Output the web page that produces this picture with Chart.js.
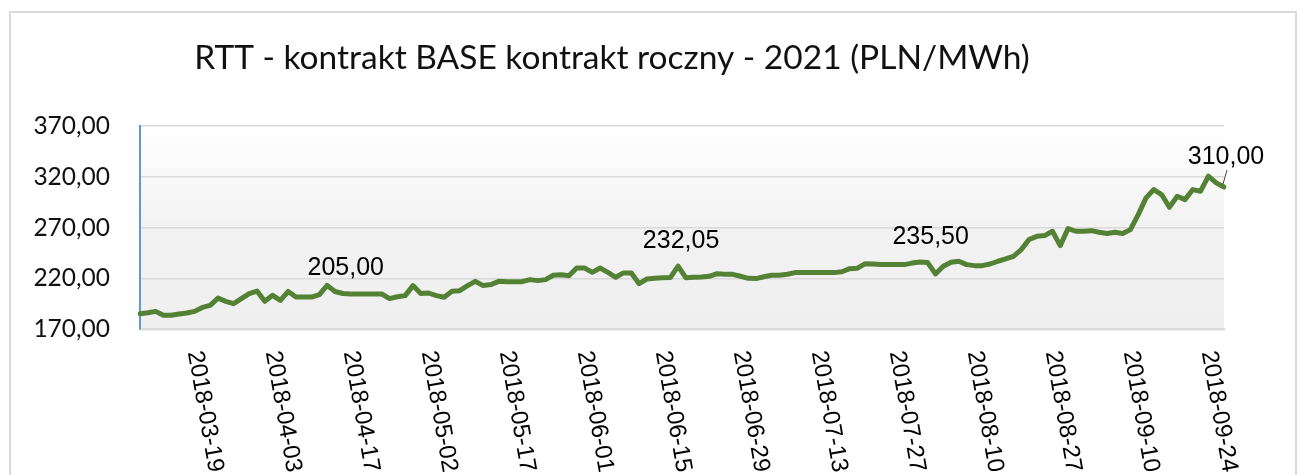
<!DOCTYPE html>
<html>
<head>
<meta charset="utf-8">
<title>RTT - kontrakt BASE</title>
<script src="https://cdn.jsdelivr.net/npm/chart.js@4/dist/chart.umd.min.js"></script>
<style>
  body { margin: 0; background: #fff; }
  canvas { display: block; }
</style>
</head>
<body>
<canvas id="rttChart" width="1307" height="475"></canvas>
<script>
// trading days (category axis)
const dates = [
  '2018-03-07','2018-03-08','2018-03-09','2018-03-12','2018-03-13','2018-03-14','2018-03-15','2018-03-16','2018-03-19','2018-03-20',
  '2018-03-21','2018-03-22','2018-03-23','2018-03-26','2018-03-27','2018-03-28','2018-03-29','2018-03-30','2018-04-03','2018-04-04',
  '2018-04-05','2018-04-06','2018-04-09','2018-04-10','2018-04-11','2018-04-12','2018-04-13','2018-04-16','2018-04-17','2018-04-18',
  '2018-04-19','2018-04-20','2018-04-23','2018-04-24','2018-04-25','2018-04-26','2018-04-27','2018-04-30','2018-05-02','2018-05-04',
  '2018-05-07','2018-05-08','2018-05-09','2018-05-10','2018-05-11','2018-05-14','2018-05-15','2018-05-16','2018-05-17','2018-05-18',
  '2018-05-21','2018-05-22','2018-05-23','2018-05-24','2018-05-25','2018-05-28','2018-05-29','2018-05-30','2018-06-01','2018-06-04',
  '2018-06-05','2018-06-06','2018-06-07','2018-06-08','2018-06-11','2018-06-12','2018-06-13','2018-06-14','2018-06-15','2018-06-18',
  '2018-06-19','2018-06-20','2018-06-21','2018-06-22','2018-06-25','2018-06-26','2018-06-27','2018-06-28','2018-06-29','2018-07-02',
  '2018-07-03','2018-07-04','2018-07-05','2018-07-06','2018-07-09','2018-07-10','2018-07-11','2018-07-12','2018-07-13','2018-07-16',
  '2018-07-17','2018-07-18','2018-07-19','2018-07-20','2018-07-23','2018-07-24','2018-07-25','2018-07-26','2018-07-27','2018-07-30',
  '2018-07-31','2018-08-01','2018-08-02','2018-08-03','2018-08-06','2018-08-07','2018-08-08','2018-08-09','2018-08-10','2018-08-13',
  '2018-08-14','2018-08-16','2018-08-17','2018-08-20','2018-08-21','2018-08-22','2018-08-23','2018-08-24','2018-08-27','2018-08-28',
  '2018-08-29','2018-08-30','2018-08-31','2018-09-03','2018-09-04','2018-09-05','2018-09-06','2018-09-07','2018-09-10','2018-09-11',
  '2018-09-12','2018-09-13','2018-09-14','2018-09-17','2018-09-18','2018-09-19','2018-09-20','2018-09-21','2018-09-24','2018-09-25'
];

// PLN/MWh
const prices = [
  185.1, 186, 187.4, 183.5, 183.5, 184.8, 185.8, 187.4, 191.3, 193.3,
  200.5, 197.3, 195, 199.9, 204.8, 207.4, 197.3, 203.2, 198.2, 207,
  201.5, 201.5, 201.5, 203.8, 213, 207, 205, 204.5, 204.5, 204.5,
  204.5, 204.5, 200, 201.8, 202.9, 212.8, 204.9, 205.5, 202.9, 201.3,
  207.2, 207.8, 212.8, 217, 212.8, 213.8, 217, 216.7, 216.7, 216.7,
  218.7, 217.7, 218.7, 223, 223.6, 222.6, 230.2, 230.2, 225.9, 230.2,
  225.9, 221, 225.3, 225.3, 214.7, 219.3, 220, 220.5, 220.7, 232.05,
  220.5, 221, 221.3, 222, 224.6, 224, 223.9, 222, 220, 219.7,
  221.5, 223, 223, 224, 225.6, 225.6, 225.6, 225.6, 225.6, 225.6,
  226.5, 229.5, 230, 234.4, 234, 233.5, 233.5, 233.5, 233.5, 235,
  236, 235.5, 224.3, 231.8, 235.8, 236.8, 233.5, 232.5, 232.5, 234.1,
  236.8, 239.1, 241.7, 248.3, 258.2, 261.4, 262.1, 266.4, 252.2, 269,
  266.4, 266.4, 267, 265.4, 264.1, 265.4, 264.1, 268, 282.8, 299.3,
  307.5, 302.6, 290, 300.9, 297.6, 307.5, 305.9, 320.7, 314.1, 310
];

// dates shown under the axis
const tickDates = [
  '2018-03-19','2018-04-03','2018-04-17','2018-05-02','2018-05-17','2018-06-01','2018-06-15',
  '2018-06-29','2018-07-13','2018-07-27','2018-08-10','2018-08-27','2018-09-10','2018-09-24'
];

// points that carry a value label
const labelledDates = ['2018-04-13', '2018-06-18', '2018-08-01', '2018-09-25'];

const fmt = (v) => v.toFixed(2).replace('.', ',');

const frame = {
  id: 'frame',
  beforeDraw(chart) {
    const { ctx, chartArea } = chart;
    ctx.save();
    // outer chart border
    ctx.strokeStyle = '#d9d9d9';
    ctx.lineWidth = 2;
    ctx.strokeRect(10, 12, 1286, 520);
    // plot area gradient
    const g = ctx.createLinearGradient(0, chartArea.top, 0, chartArea.bottom);
    g.addColorStop(0, '#ffffff');
    g.addColorStop(0.5, '#f2f2f2');
    g.addColorStop(1, '#efefef');
    ctx.fillStyle = g;
    ctx.fillRect(chartArea.left, chartArea.top, chartArea.right - chartArea.left, chartArea.bottom - chartArea.top);
    ctx.restore();
  }
};

const dateLabels = {
  id: 'dateLabels',
  afterDraw(chart) {
    const ctx = chart.ctx;
    const xs = chart.scales.x;
    ctx.save();
    ctx.font = '24px "Liberation Sans", Arial, sans-serif';
    ctx.fillStyle = '#000';
    ctx.textAlign = 'left';
    ctx.textBaseline = 'middle';
    tickDates.forEach((d) => {
      const px = xs.getPixelForValue(dates.indexOf(d));
      ctx.save();
      ctx.translate(px - 8, xs.top + 22);
      ctx.rotate(80 * Math.PI / 180);
      ctx.fillText(d, 0, 0);
      ctx.restore();
    });
    ctx.restore();
  }
};

const valueLabels = {
  id: 'valueLabels',
  afterDatasetsDraw(chart) {
    const ctx = chart.ctx;
    const meta = chart.getDatasetMeta(0);
    ctx.save();
    ctx.font = '25px "Liberation Sans", Arial, sans-serif';
    ctx.fillStyle = '#000';
    ctx.textAlign = 'center';
    ctx.textBaseline = 'middle';
    labelledDates.forEach((d, n) => {
      const i = dates.indexOf(d);
      const pt = meta.data[i];
      const last = n === labelledDates.length - 1;
      if (last) {
        ctx.strokeStyle = '#404040';
        ctx.lineWidth = 1;
        ctx.beginPath();
        ctx.moveTo(pt.x - 1, pt.y - 3);
        ctx.lineTo(pt.x + 3, pt.y - 17);
        ctx.stroke();
        ctx.fillText(fmt(prices[i]), pt.x + 2, pt.y - 30);
      } else {
        ctx.fillText(fmt(prices[i]), pt.x + 3, pt.y - 25);
      }
    });
    ctx.restore();
  }
};

new Chart(document.getElementById('rttChart'), {
  type: 'line',
  data: {
    labels: dates,
    datasets: [{
      data: prices,
      borderColor: '#548235',
      borderWidth: 5,
      pointRadius: 0,
      tension: 0,
      borderJoinStyle: 'round',
      borderCapStyle: 'round',
      fill: false
    }]
  },
  options: {
    responsive: false,
    animation: false,
    devicePixelRatio: 1,
    layout: { padding: { left: 0, right: 83, top: 0, bottom: 0 } },
    scales: {
      x: {
        grid: { display: false },
        border: { display: true, color: '#d9d9d9', width: 2.5 },
        ticks: { display: false },
        afterFit: (scale) => { scale.height = 146; }
      },
      y: {
        min: 170,
        max: 370,
        ticks: {
          stepSize: 50,
          padding: 30,
          color: '#111',
          font: { family: 'Lato', size: 24.5 },
          callback: (v) => fmt(v)
        },
        grid: { color: '#d9d9d9', lineWidth: 1.5, drawTicks: false },
        border: { color: '#5b9bd5', width: 2 },
        afterFit: (scale) => { scale.width = 140; }
      }
    },
    plugins: {
      legend: { display: false },
      tooltip: { enabled: false },
      title: {
        display: true,
        text: 'RTT - kontrakt BASE kontrakt roczny - 2021 (PLN/MWh)',
        color: '#111',
        font: { family: 'Lato', size: 33.5, weight: 'normal' },
        padding: { top: 38, bottom: 48 }
      }
    }
  },
  plugins: [frame, dateLabels, valueLabels]
});
</script>
</body>
</html>
